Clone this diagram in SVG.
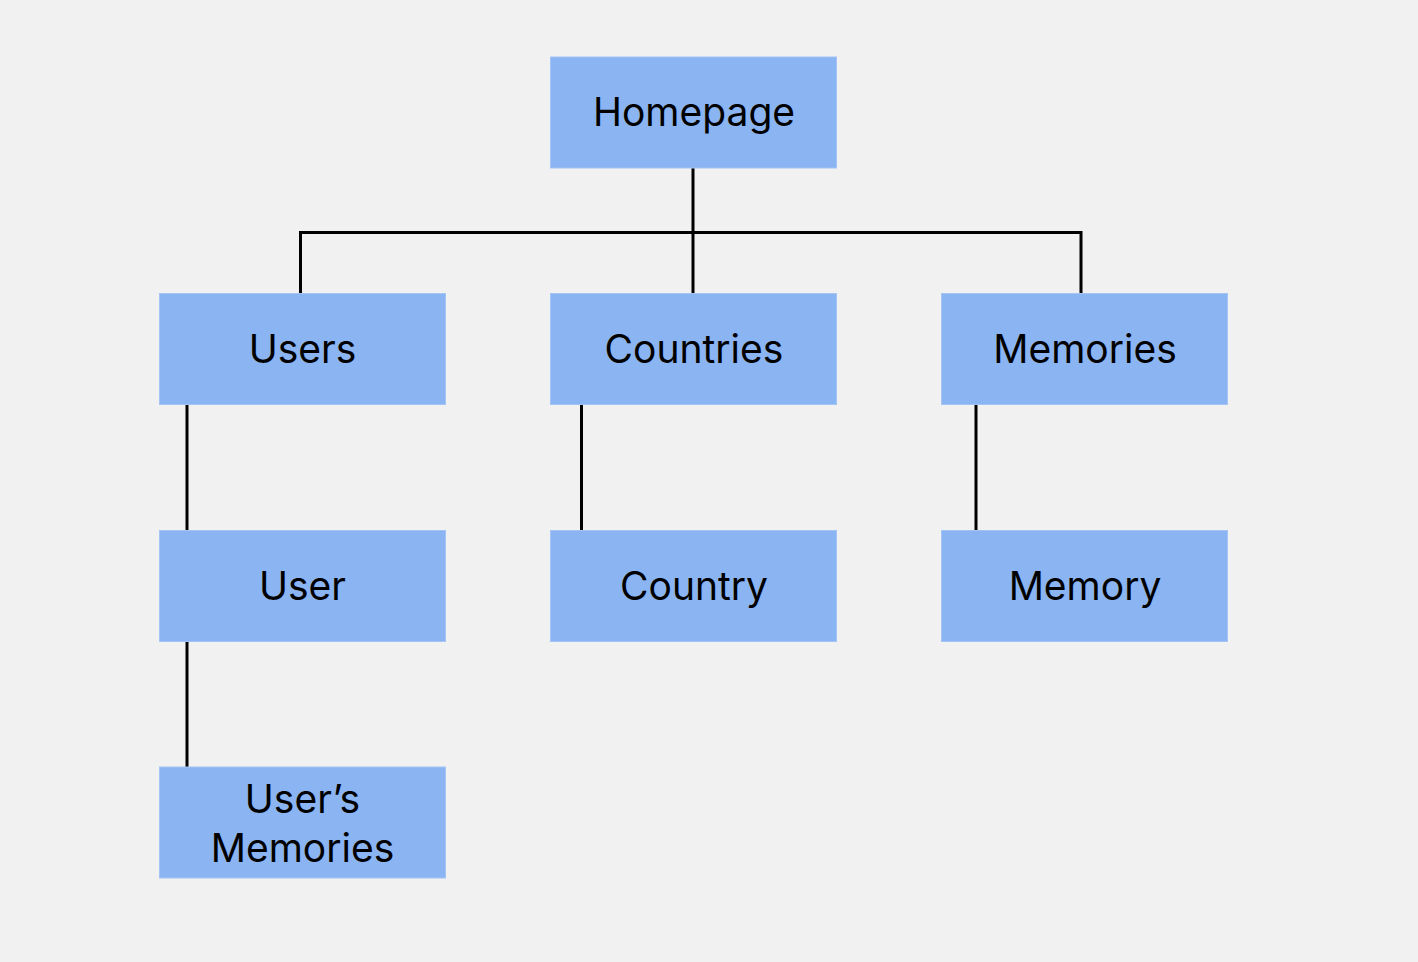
<svg xmlns="http://www.w3.org/2000/svg" width="1418" height="962" viewBox="0 0 1418 962">
<style>
.box{fill:#8AB4F2;stroke:#A3C4F5;stroke-width:1}
.lbl{font-family:Inter,"Liberation Sans",sans-serif;font-size:39px;fill:#000;text-anchor:middle}
.ln{stroke:#000;stroke-width:3;fill:none}
</style>
<rect width="1418" height="962" fill="#F1F1F1"/>
<g id="connectors">
<path class="ln" d="M693 168V293.5"/>
<path class="ln" d="M300.5 293.5V232.5H1081V293.5"/>
<path class="ln" d="M187 405V530.5"/>
<path class="ln" d="M187 642V767"/>
<path class="ln" d="M581.5 405V530.5"/>
<path class="ln" d="M976 405V530.5"/>
</g>
<g id="homepage"><rect class="box" x="550.5" y="57" width="286" height="111"/><text class="lbl" x="694" y="126">Homepage</text></g>
<g id="users"><rect class="box" x="159.5" y="293.5" width="286" height="111"/><text class="lbl" x="302.5" y="362.5">Users</text></g>
<g id="countries"><rect class="box" x="550.5" y="293.5" width="286" height="111"/><text class="lbl" x="694" y="362.5">Countries</text></g>
<g id="memories"><rect class="box" x="941.5" y="293.5" width="286" height="111"/><text class="lbl" x="1085" y="362.5">Memories</text></g>
<g id="user"><rect class="box" x="159.5" y="530.5" width="286" height="111"/><text class="lbl" x="302.5" y="599.5">User</text></g>
<g id="country"><rect class="box" x="550.5" y="530.5" width="286" height="111"/><text class="lbl" x="694" y="599.5">Country</text></g>
<g id="memory"><rect class="box" x="941.5" y="530.5" width="286" height="111"/><text class="lbl" x="1085" y="599.5">Memory</text></g>
<g id="users-memories"><rect class="box" x="159.5" y="767" width="286" height="111"/><text class="lbl" x="302.5" y="812.5">User’s</text><text class="lbl" x="302.5" y="862">Memories</text></g>
</svg>
